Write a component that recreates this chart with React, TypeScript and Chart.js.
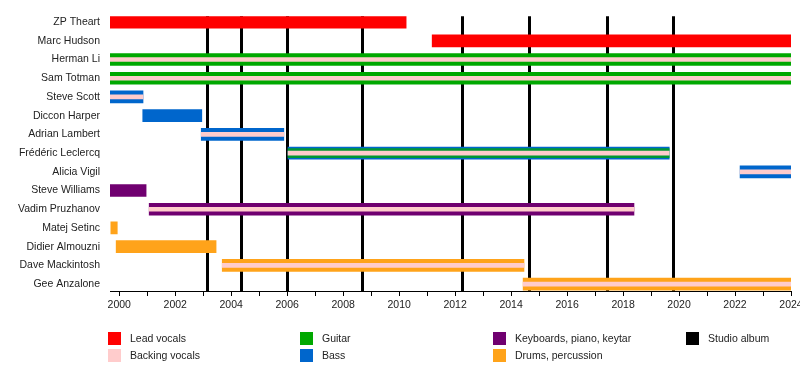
import { useEffect, useRef } from "react";
import { Chart, registerables } from "chart.js";

Chart.register(...registerables);

const members = [
  "ZP Theart",
  "Marc Hudson",
  "Herman Li",
  "Sam Totman",
  "Steve Scott",
  "Diccon Harper",
  "Adrian Lambert",
  "Frédéric Leclercq",
  "Alicia Vigil",
  "Steve Williams",
  "Vadim Pruzhanov",
  "Matej Setinc",
  "Didier Almouzni",
  "Dave Mackintosh",
  "Gee Anzalone",
];

type Span = [string, number, number];

const yearStart = 1999.67;
const yearEnd = 2024;

const leadVocals: Span[] = [
  ["ZP Theart", 1999.67, 2010.25],
  ["Marc Hudson", 2011.18, 2024],
];
const guitar: Span[] = [
  ["Herman Li", 1999.67, 2024],
  ["Sam Totman", 1999.67, 2024],
];
const secondGuitar: Span[] = [["Frédéric Leclercq", 2006.03, 2019.65]];
const bass: Span[] = [
  ["Steve Scott", 1999.67, 2000.85],
  ["Diccon Harper", 2000.84, 2002.95],
  ["Adrian Lambert", 2002.93, 2005.88],
  ["Frédéric Leclercq", 2006.03, 2019.65],
  ["Alicia Vigil", 2022.18, 2024],
];
const keyboards: Span[] = [
  ["Steve Williams", 1999.67, 2000.96],
  ["Vadim Pruzhanov", 2001.07, 2018.39],
];
const drums: Span[] = [
  ["Matej Setinc", 1999.7, 1999.93],
  ["Didier Almouzni", 1999.89, 2003.46],
  ["Dave Mackintosh", 2003.68, 2014.46],
  ["Gee Anzalone", 2014.43, 2024],
];
const backingVocals: Span[] = [
  ["Herman Li", 1999.67, 2024],
  ["Sam Totman", 1999.67, 2024],
  ["Steve Scott", 1999.67, 2000.85],
  ["Adrian Lambert", 2002.93, 2005.88],
  ["Frédéric Leclercq", 2006.03, 2019.65],
  ["Alicia Vigil", 2022.18, 2024],
  ["Vadim Pruzhanov", 2001.07, 2018.39],
  ["Dave Mackintosh", 2003.68, 2014.46],
  ["Gee Anzalone", 2014.43, 2024],
];
const studioAlbums = [2003.13, 2004.35, 2006.0, 2008.66, 2012.23, 2014.65, 2017.42, 2019.8];

const legendLabels = [
  "Lead vocals",
  "Backing vocals",
  "Guitar",
  "Bass",
  "Keyboards, piano, keytar",
  "Drums, percussion",
  "Studio album",
];

const C_LEAD = "#ff0000";
const C_BACK = "#ffcccc";
const C_GUITAR = "#00a800";
const C_BASS = "#0066cc";
const C_KEYS = "#700070";
const C_DRUMS = "#ffa31a";
const C_ALBUM = "#000000";
const legendColors = [C_LEAD, C_BACK, C_GUITAR, C_BASS, C_KEYS, C_DRUMS, C_ALBUM];

const FONT = "'Liberation Sans', Arial, sans-serif";
const FONT_SIZE = 10.5;

const toData = (spans: Span[]) =>
  spans.map(([m, s, e]) => ({ x: [s, e], y: members.indexOf(m) }));

export default function App() {
  const ref = useRef<HTMLCanvasElement>(null);

  useEffect(() => {
    if (!ref.current) return;

    const albumLines = {
      id: "albumLines",
      beforeDatasetsDraw(chart: any) {
        const { ctx, chartArea, scales } = chart;
        ctx.save();
        ctx.strokeStyle = C_ALBUM;
        ctx.lineWidth = 3;
        for (const yr of studioAlbums) {
          const x = Math.round(scales.x.getPixelForValue(yr)) + 0.5;
          ctx.beginPath();
          ctx.moveTo(x, chartArea.top);
          ctx.lineTo(x, chartArea.bottom);
          ctx.stroke();
        }
        ctx.restore();
      },
    };

    const customLegend = {
      id: "customLegend",
      afterDraw(chart: any) {
        const { ctx } = chart;
        const colX = [108, 300, 493, 686];
        const rowY = [332, 349];
        ctx.save();
        ctx.font = `${FONT_SIZE}px ${FONT}`;
        ctx.textBaseline = "middle";
        ctx.textAlign = "left";
        legendLabels.forEach((label, i) => {
          const x = colX[Math.floor(i / 2)];
          const y = rowY[i % 2];
          ctx.fillStyle = legendColors[i];
          ctx.fillRect(x, y, 13, 13);
          ctx.fillStyle = "#222";
          ctx.fillText(label, x + 22, y + 7.5);
        });
        ctx.restore();
      },
    };

    const mainBar = (label: string, spans: Span[], color: string) => ({
      label,
      data: toData(spans),
      backgroundColor: color,
      barThickness: 12,
      grouped: false,
      borderWidth: 0,
      borderSkipped: false,
      order: 3,
    });

    const chart = new Chart(ref.current, {
      type: "bar",
      data: {
        datasets: [
          mainBar("Lead vocals", leadVocals, C_LEAD),
          mainBar("Guitar", guitar, C_GUITAR),
          mainBar("Bass", bass, C_BASS),
          mainBar("Keyboards, piano, keytar", keyboards, C_KEYS),
          mainBar("Drums, percussion", drums, C_DRUMS),
          {
            label: "Guitar (second role)",
            data: toData(secondGuitar),
            backgroundColor: "rgba(0,168,0,0.75)",
            barThickness: 9,
            grouped: false,
            borderWidth: 0,
            borderSkipped: false,
            order: 2,
          },
          {
            label: "Backing vocals",
            data: toData(backingVocals),
            backgroundColor: C_BACK,
            barThickness: 4,
            grouped: false,
            borderWidth: 0,
            borderSkipped: false,
            order: 1,
          },
        ] as any,
      },
      options: {
        indexAxis: "y",
        responsive: false,
        animation: false,
        layout: { padding: { top: 10, bottom: 57, left: 0, right: 24 } },
        plugins: {
          legend: { display: false },
          tooltip: { enabled: false },
        },
        scales: {
          x: {
            type: "linear",
            position: "bottom",
            min: yearStart,
            max: yearEnd,
            ticks: {
              stepSize: 1,
              autoSkip: false,
              includeBounds: false,
              maxRotation: 0,
              padding: 3,
              color: "#222",
              font: { family: FONT, size: FONT_SIZE },
              callback: (v: any) => (Math.round(v) % 2 === 0 ? String(Math.round(v)) : ""),
            },
            grid: {
              display: true,
              drawOnChartArea: false,
              drawTicks: true,
              tickLength: 5,
              tickColor: "#000",
              color: "#000",
            },
            border: { display: true, color: "#000", width: 1 },
            afterFit: (s: any) => {
              s.height = 22;
            },
          },
          y: {
            type: "linear",
            reverse: true,
            offset: false,
            min: -0.31,
            max: 14.37,
            ticks: {
              stepSize: 1,
              autoSkip: false,
              includeBounds: false,
              padding: 10,
              color: "#222",
              font: { family: FONT, size: FONT_SIZE },
              callback: (v: any) => (Number.isInteger(v) ? members[v] : ""),
            },
            grid: { display: false, drawTicks: false, offset: false },
            border: { display: false },
            afterFit: (s: any) => {
              s.width = 110;
            },
          },
        },
      } as any,
      plugins: [albumLines, customLegend],
    });

    return () => chart.destroy();
  }, []);

  return (
    <div style={{ position: "fixed", left: 0, top: 0, width: 815, height: 370, background: "#fff" }}>
      <canvas ref={ref} width={815} height={370} style={{ display: "block" }} />
    </div>
  );
}
